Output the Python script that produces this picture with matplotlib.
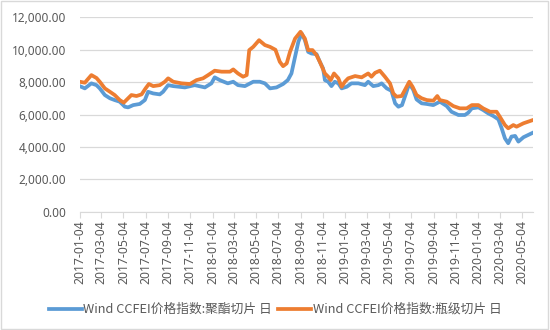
import numpy as np
import pandas as pd
import matplotlib
matplotlib.use("Agg")
import matplotlib.pyplot as plt
import matplotlib.dates as mdates
from matplotlib.patches import Rectangle

# 聚酯切片 daily index
polyester_dates = [
    "2017-01-04", "2017-01-18", "2017-02-05", "2017-02-19", "2017-02-28", "2017-03-14",
    "2017-03-28", "2017-04-10", "2017-04-24", "2017-05-08", "2017-05-17", "2017-05-31",
    "2017-06-18", "2017-07-02", "2017-07-11", "2017-07-25", "2017-08-12", "2017-08-21",
    "2017-09-04", "2017-09-18", "2017-10-20", "2017-11-16", "2017-12-14", "2018-01-01",
    "2018-01-10", "2018-01-24", "2018-02-15", "2018-03-02", "2018-03-15", "2018-04-03",
    "2018-04-26", "2018-05-14", "2018-05-28", "2018-06-11", "2018-06-29", "2018-07-17",
    "2018-07-30", "2018-08-09", "2018-08-19", "2018-08-28", "2018-09-06", "2018-09-15",
    "2018-09-24", "2018-10-03", "2018-10-17", "2018-10-26", "2018-11-04", "2018-11-09",
    "2018-11-18", "2018-11-27", "2018-12-06", "2018-12-16", "2018-12-25", "2019-01-08",
    "2019-01-21", "2019-02-09", "2019-02-27", "2019-03-08", "2019-03-22", "2019-04-05",
    "2019-04-14", "2019-04-28", "2019-05-11", "2019-05-21", "2019-05-30", "2019-06-09",
    "2019-06-20", "2019-06-29", "2019-07-10", "2019-07-19", "2019-08-02", "2019-08-16",
    "2019-09-03", "2019-09-21", "2019-10-10", "2019-10-23", "2019-11-11", "2019-11-29",
    "2019-12-08", "2019-12-18", "2020-01-05", "2020-01-18", "2020-02-01", "2020-02-15",
    "2020-02-29", "2020-03-09", "2020-03-18", "2020-03-27", "2020-04-05", "2020-04-15",
    "2020-04-24", "2020-05-08", "2020-05-21", "2020-06-03",
]
polyester_vals = [
    7750, 7610, 7920, 7810, 7610, 7200,
    7000, 6890, 6790, 6480, 6440, 6580,
    6650, 6890, 7400, 7300, 7240, 7400,
    7810, 7750, 7670, 7810, 7670, 7920,
    8290, 8120, 7920, 8020, 7810, 7750,
    8020, 8020, 7920, 7610, 7670, 7880,
    8120, 8530, 9560, 10480, 11000, 10580,
    9860, 9760, 9720, 9250, 8840, 8120,
    8020, 7750, 8020, 7920, 7610, 7710,
    7920, 7920, 7810, 8020, 7750, 7810,
    7920, 7610, 7460, 6690, 6480, 6580,
    7300, 7920, 7510, 6930, 6690, 6650,
    6580, 6790, 6520, 6170, 5970, 5970,
    6110, 6380, 6440, 6280, 6070, 5910,
    5700, 5150, 4530, 4230, 4640, 4680,
    4330, 4600, 4740, 4880,
]

# 瓶级切片 daily index
bottle_dates = [
    "2017-01-04", "2017-01-18", "2017-01-24", "2017-02-05", "2017-02-19", "2017-02-28",
    "2017-03-14", "2017-03-28", "2017-04-10", "2017-04-24", "2017-05-05", "2017-05-17",
    "2017-05-26", "2017-06-09", "2017-06-23", "2017-07-04", "2017-07-13", "2017-07-25",
    "2017-08-12", "2017-08-26", "2017-09-04", "2017-09-18", "2017-10-11", "2017-11-03",
    "2017-11-21", "2017-12-09", "2017-12-23", "2018-01-10", "2018-01-29", "2018-02-21",
    "2018-03-02", "2018-03-15", "2018-03-29", "2018-04-08", "2018-04-15", "2018-04-26",
    "2018-05-12", "2018-05-28", "2018-06-11", "2018-06-26", "2018-07-08", "2018-07-17",
    "2018-07-27", "2018-08-05", "2018-08-19", "2018-09-03", "2018-09-15", "2018-09-24",
    "2018-10-06", "2018-10-17", "2018-10-26", "2018-11-09", "2018-11-18", "2018-11-25",
    "2018-12-04", "2018-12-16", "2018-12-25", "2019-01-03", "2019-01-12", "2019-01-31",
    "2019-02-18", "2019-03-08", "2019-03-17", "2019-03-27", "2019-04-09", "2019-04-23",
    "2019-05-07", "2019-05-16", "2019-05-25", "2019-06-08", "2019-06-17", "2019-06-29",
    "2019-07-08", "2019-07-19", "2019-08-02", "2019-08-16", "2019-09-03", "2019-09-14",
    "2019-09-21", "2019-10-10", "2019-10-28", "2019-11-15", "2019-12-04", "2019-12-18",
    "2020-01-05", "2020-01-18", "2020-02-06", "2020-02-24", "2020-03-04", "2020-03-18",
    "2020-03-27", "2020-04-10", "2020-04-19", "2020-05-08", "2020-05-21", "2020-06-03",
]
bottle_vals = [
    8020, 7960, 8120, 8430, 8250, 8020,
    7610, 7400, 7200, 6890, 6730, 7000,
    7200, 7140, 7240, 7610, 7880, 7750,
    7810, 8020, 8230, 8020, 7920, 7880,
    8120, 8230, 8430, 8700, 8640, 8640,
    8780, 8530, 8330, 8430, 9970, 10170,
    10580, 10280, 10170, 9990, 9250, 8980,
    9150, 9860, 10680, 11100, 10680, 9970,
    9970, 9660, 9250, 8530, 8330, 8120,
    8530, 8230, 7710, 8020, 8230, 8370,
    8290, 8530, 8330, 8570, 8700, 8330,
    7920, 7300, 7100, 7140, 7510, 8020,
    7710, 7200, 7000, 6890, 6850, 7140,
    6890, 6790, 6520, 6380, 6380, 6580,
    6580, 6380, 6170, 6170, 5860, 5350,
    5150, 5350, 5250, 5460, 5560, 5660,
]

tick_labels = [
    "2017-01-04", "2017-03-04", "2017-05-04", "2017-07-04", "2017-09-04", "2017-11-04",
    "2018-01-04", "2018-03-04", "2018-05-04", "2018-07-04", "2018-09-04", "2018-11-04",
    "2019-01-04", "2019-03-04", "2019-05-04", "2019-07-04", "2019-09-04", "2019-11-04",
    "2020-01-04", "2020-03-04", "2020-05-04",
]
series_names = ["Wind CCFEI价格指数:聚酯切片 日", "Wind CCFEI价格指数:瓶级切片 日"]
y_ticks = [0, 2000, 4000, 6000, 8000, 10000, 12000]

plt.rcParams["font.family"] = ["Noto Sans CJK SC", "DejaVu Sans"]
text_color = "#595959"
grid_color = "#d9d9d9"

fig = plt.figure(figsize=(5.5, 3.3), dpi=100)
fig.patches.append(Rectangle((0.002, 0.003), 0.995, 0.994, transform=fig.transFigure,
                             fill=False, edgecolor=grid_color, linewidth=1.0))
ax = fig.add_axes([0.145, 0.358, 0.824, 0.59])

ax.plot(pd.to_datetime(polyester_dates), polyester_vals, color="#5B9BD5", lw=2.7,
        label=series_names[0], solid_joinstyle="round")
ax.plot(pd.to_datetime(bottle_dates), bottle_vals, color="#ED7D31", lw=2.7,
        label=series_names[1], solid_joinstyle="round")

ax.set_ylim(0, 12000)
ax.set_yticks(y_ticks)
ax.set_yticklabels([f"{v:,.2f}" for v in y_ticks], fontsize=8.5, color=text_color,
                   family=["Noto Sans", "DejaVu Sans"])
ax.set_xlim(pd.Timestamp("2017-01-04"), pd.Timestamp("2020-06-03"))
ax.set_xticks(pd.to_datetime(tick_labels))
ax.set_xticklabels(tick_labels, rotation=90, fontsize=8.8, color=text_color,
                   family=["Noto Sans", "DejaVu Sans"])

ax.grid(axis="y", color=grid_color, lw=0.9)
ax.set_axisbelow(True)
for side in ["left", "right", "top"]:
    ax.spines[side].set_visible(False)
ax.spines["bottom"].set_color(grid_color)
ax.tick_params(axis="y", length=0, pad=10)
ax.tick_params(axis="x", length=4, color=grid_color, direction="out", pad=2)

fig.legend(loc="center", bbox_to_anchor=(0.5, 0.062), ncol=2, frameon=False,
           fontsize=9.2, handlelength=2.6, columnspacing=0.5, handletextpad=0.1,
           labelcolor=text_color)

fig.savefig("out.png", dpi=100)
